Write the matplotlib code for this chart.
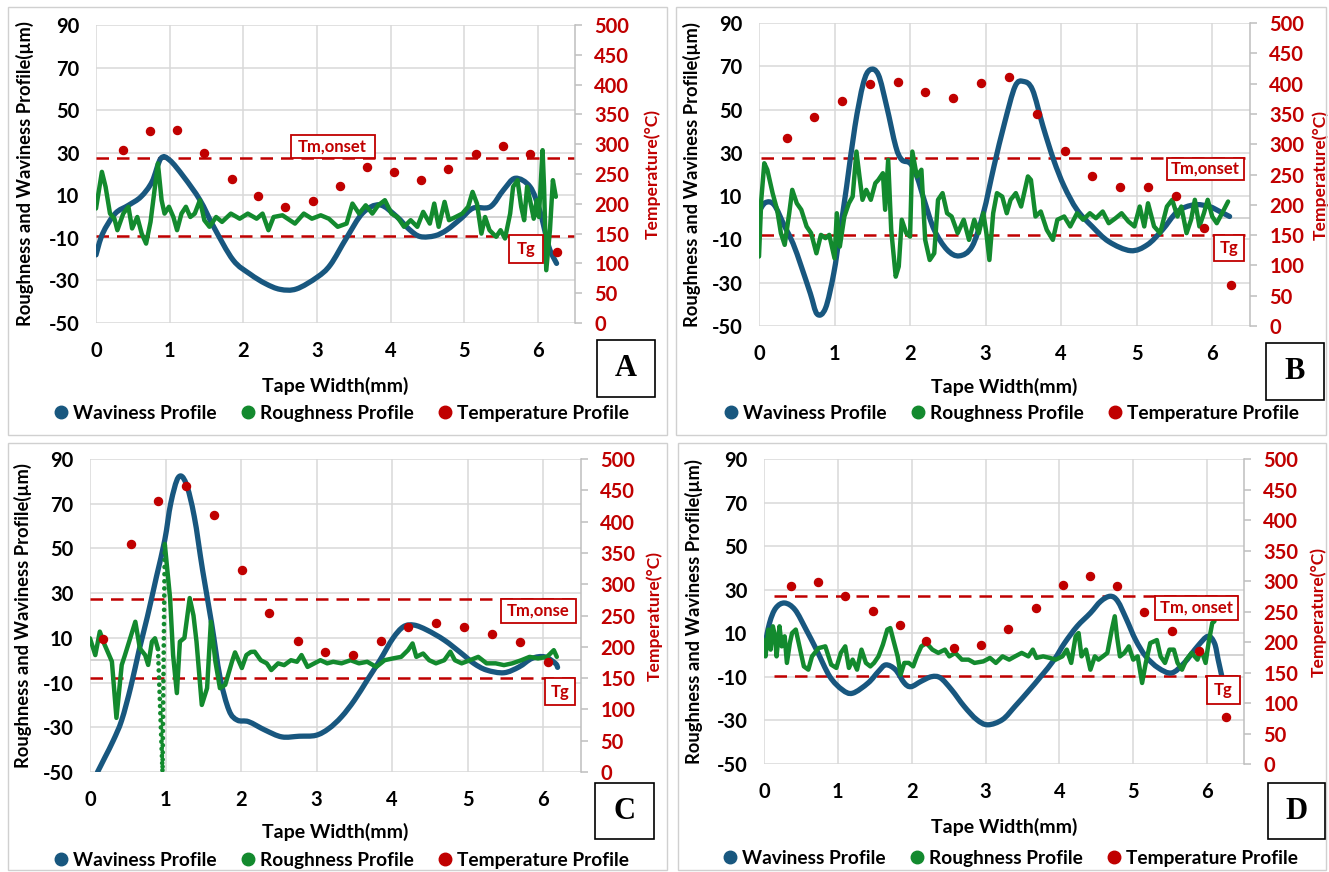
import numpy as np
import matplotlib
matplotlib.use('Agg')
import matplotlib.pyplot as plt
from matplotlib.patches import Rectangle, PathPatch
from matplotlib.path import Path
from matplotlib.lines import Line2D

plt.rcParams['font.family'] = ['Lato', 'DejaVu Sans']
plt.rcParams['font.weight'] = 'bold'

W, H = 1329, 872
BLUE = '#18577F'
GREEN = '#138A2E'
RED = '#C00000'
GRID = '#D9D9D9'

# ---------------- data ----------------
temp_x = [0.37, 0.73, 1.10, 1.47, 1.84, 2.20, 2.57, 2.94, 3.31, 3.68, 4.05, 4.41, 4.78, 5.15, 5.52, 5.89, 6.25]
temp_c_x = [0.17, 0.54, 0.90, 1.27, 1.64, 2.01, 2.37, 2.75, 3.11, 3.48, 3.85, 4.21, 4.58, 4.95, 5.32, 5.69, 6.06]
temp_a = [290, 322, 324, 286, 241, 213, 195, 204, 230, 261, 253, 240, 259, 283, 297, 283, 119]
temp_b = [311, 345, 371, 399, 402, 386, 377, 401, 411, 350, 288, 247, 229, 229, 214, 162, 68]
temp_c = [212, 365, 433, 457, 410, 322, 254, 209, 192, 187, 210, 232, 238, 232, 220, 207, 175]
temp_d = [291, 298, 276, 251, 228, 201, 190, 195, 221, 256, 293, 309, 291, 249, 218, 185, 77]

wav_a_x = [0, 0.09, 0.26, 0.44, 0.61, 0.76, 0.88, 1.0, 1.19, 1.41, 1.6, 1.86, 2.09, 2.3, 2.5, 2.72, 3.0, 3.18, 3.4,
           3.62, 3.85, 4.08, 4.25, 4.4, 4.6, 4.76, 4.95, 5.12, 5.35, 5.53, 5.69, 5.89, 6.02, 6.1, 6.16, 6.25]
wav_a_y = [-18, -8, 1.4, 5.3, 9.3, 16.3, 27.3, 26.5, 18.7, 7.8, -5, -20.4, -27, -31.5, -34.2, -34, -28.5, -22.7, -10,
           1.7, 5.5, 0, -6, -9.4, -9, -6.3, -1, 4, 4.6, 12.5, 18, 14, 3, -8, -15.7, -22]

rough_a_x = [0, 0.08, 0.13, 0.19, 0.25, 0.29, 0.37, 0.44, 0.49, 0.56, 0.62, 0.68, 0.74, 0.80, 0.84, 0.89, 0.93, 0.99,
             1.05, 1.10, 1.16, 1.22, 1.28, 1.34, 1.41, 1.47, 1.54, 1.63, 1.71, 1.83, 1.95, 2.06, 2.18, 2.26, 2.34,
             2.41, 2.53, 2.70, 2.82, 2.93, 3.05, 3.16, 3.28, 3.40, 3.48, 3.57, 3.66, 3.75, 3.83, 3.92, 4.01, 4.09,
             4.18, 4.27, 4.36, 4.44, 4.53, 4.59, 4.65, 4.73, 4.79, 4.88, 4.97, 5.05, 5.11, 5.17, 5.23, 5.28, 5.34,
             5.43, 5.49, 5.55, 5.62, 5.66, 5.72, 5.77, 5.81, 5.85, 5.89, 5.94, 5.98, 6.01, 6.06, 6.08, 6.11, 6.16,
             6.20, 6.24]
rough_a_y = [3.8, 21, 14, 1.4, -1, -6.4, 1.4, 4.6, -5.6, -0.2, -8, -12.7, -2.5, 14, 25, 7.7, 1.4, 4.6,
             -0.2, -6.4, 1.4, 4.6, -0.2, 1.4, 7.7, -1.7, -4.8, -0.2, -2.5, 1.4, -1, 1.4, -1, 1.4, -6.4,
             -0.2, 0.6, -3.3, 1.4, -1, 0.6, -1, -4.8, -3.3, 6.1, 1.4, 5.3, 1.4, 5.3, 7.7, 1.4, -0.2,
             -4.8, -1.7, -4.8, 2.2, -3.3, 6.1, -4.8, 6.9, -1.7, -0.2, 1.4, 4.6, 11.6, 6.1, -8, -0.2, -6.4,
             -9.5, -6.4, -10.3, 1.4, 14, 17.1, 4.6, -1.7, 14, 7.7, -1, 7.7, -0.2, 31.2, 14, -25.2, -6.4,
             17.1, 9.3]

wav_b_x = [0, 0.085, 0.2, 0.34, 0.45, 0.56, 0.68, 0.77, 0.88, 0.99, 1.07, 1.16, 1.27, 1.38, 1.47, 1.58, 1.69, 1.81,
           1.89, 2.0, 2.09, 2.2, 2.32, 2.49, 2.65, 2.82, 2.97, 3.11, 3.25, 3.39, 3.5, 3.62, 3.76, 3.9, 4.04, 4.21,
           4.41, 4.63, 4.92, 5.14, 5.34, 5.54, 5.76, 5.96, 6.1, 6.23]
wav_b_y = [2.9, 7, 6, -4, -11.8, -22.5, -35, -44.5, -41.8, -25.6, -7.1, 14.5, 42.2, 62, 68.4, 66.1, 51.5, 33,
           26.8, 25.2, 19.1, 6.7, -5.6, -14.8, -17.6, -13.3, 2.1, 23.7, 43.7, 60.7, 63, 59.2, 42.2, 26.8, 14.5, 3.7,
           -4, -11, -15.2, -12.5, -5.6, 2.9, 6, 5.2, 2.9, 0.6]

rough_b_x = [0, 0.03, 0.07, 0.11, 0.18, 0.24, 0.29, 0.34, 0.40, 0.44, 0.50, 0.56, 0.63, 0.69, 0.76, 0.82, 0.88, 0.93,
             1.0, 1.03, 1.07, 1.13, 1.19, 1.24, 1.29, 1.33, 1.37, 1.42, 1.48, 1.54, 1.58, 1.64, 1.67, 1.71, 1.75,
             1.81, 1.85, 1.89, 1.95, 2.0, 2.03, 2.09, 2.15, 2.2, 2.26, 2.32, 2.37, 2.43, 2.49, 2.55, 2.63, 2.71,
             2.78, 2.85, 2.91, 2.97, 3.01, 3.05, 3.1, 3.15, 3.22, 3.28, 3.33, 3.40, 3.47, 3.56, 3.60, 3.66, 3.73,
             3.81, 3.89, 3.95, 4.04, 4.12, 4.21, 4.29, 4.38, 4.46, 4.55, 4.63, 4.72, 4.8, 4.89, 4.97, 5.04, 5.1,
             5.15, 5.23, 5.31, 5.4, 5.47, 5.54, 5.59, 5.66, 5.72, 5.77, 5.83, 5.89, 5.94, 6.0, 6.06, 6.13, 6.21]
rough_b_y = [-17.9, 8.3, 25.2, 22.2, 11.4, 3.7, -7.1, -12.5, 2.1, 12.9, 6.7, 3.7, -4, -7.1, -16.4, -7.9, -9.4, -7.9,
             -18.7, 2.1, -13.3, 0.6, 6.7, 9.8, 30.6, 19.1, 8.3, 12.9, 8.3, 16, 17.5, 20.6, 3.7, 26.8, -5.6,
             -27.2, -22.5, -0.9, -7.1, -8.7, 30.6, 19.1, 22.2, -10.2, -19.5, -16.4, 8.3, 11.4, 2.1, 0.6, -7.1, -0.9,
             -10.2, -0.9, -7.1, 2.1, -7.1, -19.5, 2.1, 11.4, 9.8, 2.1, 8.3, 11.4, 5.2, 19.1, 17.5, 0.6, 2.9,
             -5.6, -10.2, -0.9, 0.6, -4, 2.1, -0.9, 2.1, -0.2, 2.9, -2.5, -0.2, 2.1, -1.7, -4, 5.2, -4,
             6.7, -4, -7.1, 5.2, 8.3, 0.6, 5.2, -7.1, -0.9, 8.3, -4, 2.1, 8.3, 0.6, -2.5, 2.1, 7.5]

wav_c_x = [0.1, 0.2, 0.31, 0.42, 0.54, 0.65, 0.76, 0.88, 0.99, 1.07, 1.17, 1.27, 1.38, 1.49, 1.61, 1.72, 1.84, 1.95,
           2.1, 2.32, 2.54, 2.77, 2.99, 3.16, 3.33, 3.5, 3.67, 3.84, 4.01, 4.15, 4.29, 4.46, 4.69, 4.92, 5.08, 5.25,
           5.48, 5.68, 5.85, 6.02, 6.16, 6.19]
wav_c_y = [-50, -43.3, -35.8, -26.8, -11.9, 4.5, 19.5, 37.4, 53.8, 70.3, 81.8, 79.2, 64.3, 40.4, 16.5, -7.4, -22.4, -26.8,
           -27.5, -31.3, -34.3, -34, -33.6, -30.6, -25.3, -17.9, -8.9, 0.1, 9.8, 15, 15.7, 13.5, 9, 3, -1.4, -4.4,
           -5.6, -3, 0.8, 1.5, -1.4, -3.2]

rough_c1_x = [0, 0.07, 0.13, 0.19, 0.29, 0.35, 0.42, 0.46, 0.6, 0.66, 0.73, 0.77, 0.82, 0.86, 0.9]
rough_c1_y = [9.8, 2.3, 12.8, 7.2, -0.6, -25.8, -2.1, 2, 17.2, 5.3, 2.3, -2.1, 8.3, 9.8, 5]
rough_c_drop_x = [0.9, 0.96, 0.99]
rough_c_drop_y = [5, -50, 52]
rough_c2_x = [0.99, 1.06, 1.10, 1.15, 1.19, 1.25, 1.32, 1.37, 1.41, 1.48, 1.55, 1.60, 1.66, 1.72, 1.79, 1.88, 1.92,
              2.01, 2.07, 2.13, 2.18, 2.26, 2.34, 2.4, 2.49, 2.57, 2.66, 2.74, 2.8, 2.88, 2.97, 3.05, 3.14, 3.22,
              3.33, 3.45, 3.56, 3.67, 3.79, 3.9, 4.01, 4.12, 4.21, 4.27, 4.32, 4.41, 4.49, 4.58, 4.69, 4.77, 4.83,
              4.92, 5.03, 5.14, 5.25, 5.37, 5.48, 5.59, 5.71, 5.82, 5.93, 6.05, 6.14, 6.18]
rough_c2_y = [52, 27.8, 2.3, -14.7, 8.3, 10, 27.8, 20, 8.3, -20, -12.5, 17.2, -0.6, -12.5, -11, -0.6, 3.5,
              -3.5, 2.3, 3.7, 3.8, 0, -1.4, -4.4, -1.4, -2.2, 0, -0.7, 2.3, -3, -1.4, 0, -1.4, -0.7,
              -1.4, 0, -1.4, -0.7, -3, 0, 0.8, 1.5, 4.5, 7.5, 1.5, 3, 0, -1.4, 0, 3.8, 0,
              -1.4, 0, 1.5, -1.4, -1.4, -2.2, -1.4, 0, 1.5, 0.8, 1.5, 4.5, 1.5]

wav_d_x = [0, 0.075, 0.16, 0.28, 0.42, 0.57, 0.71, 0.89, 1.06, 1.2, 1.41, 1.55, 1.65, 1.78, 1.9, 1.99, 2.13, 2.27,
           2.39, 2.54, 2.71, 2.88, 3.03, 3.23, 3.4, 3.58, 3.75, 3.93, 4.07, 4.24, 4.42, 4.56, 4.69, 4.79, 4.91,
           5.03, 5.17, 5.34, 5.52, 5.69, 5.87, 6.01, 6.1, 6.15, 6.2]
wav_d_y = [2.5, 14.7, 21.6, 23.9, 20.8, 11.7, 2.5, -9.8, -15.9, -17.5, -12.8, -7.5, -4.5, -6.7, -12.8, -14.5, -12, -9.9,
           -10.5, -15.9, -23.5, -29.6, -32, -29.6, -23.5, -16.6, -9.8, -2.1, 5.5, 13.2, 19.3, 24.7, 27, 24.7, 16.3,
           7.1, -0.6, -5.9, -8.2, -3.6, 4, 8.6, 5.5, -2.1, -9.8]

rough_d_x = [0, 0.02, 0.06, 0.09, 0.12, 0.15, 0.17, 0.21, 0.24, 0.28, 0.31, 0.35, 0.38, 0.43, 0.48, 0.54, 0.6, 0.65,
             0.74, 0.83, 0.91, 0.98, 1.04, 1.1, 1.15, 1.2, 1.26, 1.32, 1.38, 1.44, 1.49, 1.55, 1.61, 1.67, 1.71,
             1.75, 1.81, 1.85, 1.9, 1.96, 2.02, 2.07, 2.13, 2.2, 2.28, 2.36, 2.45, 2.51, 2.59, 2.68, 2.77, 2.85,
             2.97, 3.06, 3.14, 3.23, 3.32, 3.4, 3.49, 3.58, 3.64, 3.69, 3.78, 3.87, 3.95, 4.04, 4.1, 4.16, 4.22,
             4.26, 4.3, 4.36, 4.42, 4.48, 4.53, 4.59, 4.65, 4.71, 4.75, 4.78, 4.82, 4.88, 4.94, 5.0, 5.06, 5.12,
             5.17, 5.23, 5.32, 5.37, 5.43, 5.49, 5.55, 5.6, 5.66, 5.72, 5.79, 5.87, 5.92, 5.98, 6.02, 6.07, 6.1]
rough_d_y = [6.9, -0.6, 11.7, 2.5, 13.2, 8.6, -0.6, 13.2, 4, 8.6, -3.6, 5.5, 10.1, 11.7, 4, -5.2, -6.7, -0.6,
             3.2, 4, -4.4, -5.9, 1, 4, -5.9, -2.1, -6.7, 2.5, -3.6, -5.2, -3.6, -0.6, 4.8, 11.7, 12.4,
             7.1, -0.6, -9, -3.6, -3.6, -5.2, -0.6, 4, 5.5, 2.5, 1, 2.5, -0.6, 1, -2.1, -2.1, -3.6,
             -2.9, -1.3, -3.6, -0.6, -2.1, -0.6, 1, -0.6, 2.5, -1.3, -0.6, -1.3, -2.1, -0.6, 2.5, -3.6, 8.6,
             10.1, -0.6, 2.5, -6.7, -0.6, -2.1, -0.6, 1, 11.7, 17.8, 8.6, -0.6, 1, 4, -2.1, -0.6, -12.8,
             -3.6, 5.5, 6.9, -0.6, -3.6, 2.5, 2.5, -3.6, -6.7, -2.1, 1, -2.1, 2.5, -3.6, 5.5, 14.7, 15.5]

y_ticks = [-50, -30, -10, 10, 30, 50, 70, 90]
t_ticks = [0, 50, 100, 150, 200, 250, 300, 350, 400, 450, 500]
x_ticks = [0, 1, 2, 3, 4, 5, 6]

TICK_FS = 14.5
LAB_FS = 13.2
TLAB_FS = 12.6
LEG_FS = 13.8

# ---------------- drawing ----------------
fig = plt.figure(figsize=(W / 100, H / 100), dpi=100)
fig.patch.set_facecolor('white')


def frect(x0, y0, x1, y1):
    return [x0 / W, 1 - y1 / H, (x1 - x0) / W, (y1 - y0) / H]


def smooth_path(xs, ys):
    """Excel-style smoothed line: cubic Bezier segments through the read points."""
    p = np.column_stack([xs, ys]).astype(float)
    verts = [p[0]]
    codes = [Path.MOVETO]
    n = len(p)
    for i in range(n - 1):
        p0 = p[i - 1] if i > 0 else p[i]
        p1 = p[i]
        p2 = p[i + 1]
        p3 = p[i + 2] if i + 2 < n else p[i + 1]
        c1 = p1 + (p2 - p0) / 6.0
        c2 = p2 - (p3 - p1) / 6.0
        verts += [c1, c2, p2]
        codes += [Path.CURVE4] * 3
    return Path(verts, codes)


def panel(box, outer, letter_box, letter, leg_c, ylab_x, tlab_x, xlab_y,
          wav, rough_parts, temps, tm, tg, tm_box, tg_box, tm_text, dash_x0):
    x0, y0, x1, y1 = box
    fig.add_artist(Rectangle((outer[0] / W, 1 - outer[3] / H), (outer[2] - outer[0]) / W,
                             (outer[3] - outer[1]) / H, transform=fig.transFigure,
                             fill=False, ec='#D0D0D0', lw=1.0))
    ax = fig.add_axes(frect(*box))
    ax.set_xlim(0, 6.5)
    ax.set_ylim(-50, 90)
    ax.set_xticks(x_ticks)
    ax.set_yticks(y_ticks)
    ax.set_xticklabels([str(v) for v in x_ticks])
    ax.set_yticklabels([str(v) for v in y_ticks])
    for s in ax.spines.values():
        s.set_visible(False)
    ax.grid(True, color=GRID, lw=1.1)
    ax.set_axisbelow(True)
    ax.axhline(0, color='#C8C8C8', lw=1.1, zorder=0.5)
    ax.tick_params(axis='both', length=0, labelsize=TICK_FS, colors='black')
    ax.tick_params(axis='x', pad=13)
    ax.tick_params(axis='y', pad=12)
    for lab in ax.get_xticklabels() + ax.get_yticklabels():
        lab.set_fontweight('bold')

    ax.plot([dash_x0, 6.5], [tm, tm], color=RED, lw=1.8, dashes=(5, 3.2), zorder=2)
    ax.plot([dash_x0, 6.5], [tg, tg], color=RED, lw=1.8, dashes=(5, 3.2), zorder=2)

    ax.add_patch(PathPatch(smooth_path(wav[0], wav[1]), fill=False, ec=BLUE, lw=3.8,
                           capstyle='round', joinstyle='round', zorder=3))
    for (rx, ry, style) in rough_parts:
        if style == 'solid':
            ax.plot(rx, ry, color=GREEN, lw=3.2, solid_capstyle='round', solid_joinstyle='round', zorder=4)
        else:
            ax.plot(rx, ry, color=GREEN, lw=3.4, linestyle=(0, (0.01, 1.5)), dash_capstyle='round', zorder=4)

    for (bx0, by0, bx1, by1), txt in ((tm_box, tm_text), (tg_box, 'Tg')):
        ax.add_patch(Rectangle((bx0, by0), bx1 - bx0, by1 - by0, fc='white', ec=RED, lw=1.3, zorder=6,
                               clip_on=False))
        ax.text((bx0 + bx1) / 2, (by0 + by1) / 2, txt, color=RED, fontsize=12, fontweight='bold',
                ha='center', va='center', zorder=7)

    ax.set_xlabel('Tape Width(mm)', fontsize=14, fontweight='bold')
    ax.xaxis.set_label_coords(0.5, 1 - (xlab_y - y0) / (y1 - y0))
    ax.set_ylabel('Roughness and Waviness Profile(µm)', fontsize=LAB_FS, fontweight='bold')
    ax.yaxis.set_label_coords((ylab_x - x0) / (x1 - x0), 0.5)

    ax2 = ax.twinx()
    ax2.set_ylim(0, 500)
    ax2.set_yticks(t_ticks)
    ax2.set_yticklabels([str(v) for v in t_ticks])
    for k, s in ax2.spines.items():
        s.set_visible(k == 'right')
    ax2.spines['right'].set_color('#BFBFBF')
    ax2.spines['right'].set_linewidth(1.1)
    ax2.tick_params(axis='y', length=5, width=1.1, color='#BFBFBF', labelcolor=RED, labelsize=TICK_FS, pad=9)
    for lab in ax2.get_yticklabels():
        lab.set_fontweight('bold')
    ax2.plot(temps[0], temps[1], 'o', color=RED, ms=5.8, mec=RED, zorder=5, clip_on=False)
    ax2.set_ylabel('Temperature(°C)', color=RED, fontsize=TLAB_FS, fontweight='bold')
    ax2.yaxis.set_label_coords((tlab_x - x0) / (x1 - x0), 0.5)

    lx0, ly0, lx1, ly1 = letter_box
    fig.add_artist(Rectangle((lx0 / W, 1 - ly1 / H), (lx1 - lx0) / W, (ly1 - ly0) / H,
                             transform=fig.transFigure, fill=False, ec='black', lw=1.2))
    fig.text((lx0 + lx1) / 2 / W, 1 - (ly0 + ly1) / 2 / H, letter, fontsize=22, fontweight='bold',
             family='Liberation Serif', ha='center', va='center')

    handles = [Line2D([], [], marker='o', ls='none', color=c, ms=9) for c in (BLUE, GREEN, RED)]
    fig.legend(handles, ['Waviness Profile', 'Roughness Profile', 'Temperature Profile'],
               loc='center', bbox_to_anchor=(leg_c[0] / W, 1 - leg_c[1] / H), ncol=3, frameon=False,
               prop={'size': LEG_FS, 'weight': 'bold'}, handlelength=0.6, handletextpad=0.35,
               columnspacing=1.3, borderaxespad=0)


panel((96, 25, 575, 323), (8, 7, 667, 435), (597, 340, 655, 397), 'A', (342, 413), 34, 644, 377,
      (wav_a_x, wav_a_y), [(rough_a_x, rough_a_y, 'solid')], (temp_x, temp_a),
      27.6, -9.1, (2.64, 27.3, 3.78, 38.3), (5.6, -22, 6.06, -8.8), 'Tm,onset', 0.0)

panel((759, 23, 1250, 326), (676, 7, 1326, 435), (1266, 343, 1324, 400), 'B', (1012, 413), 701, 1312, 378,
      (wav_b_x, wav_b_y), [(rough_b_x, rough_b_y, 'solid')], (temp_x, temp_b),
      27.8, -8.0, (5.4, 17.6, 6.42, 27.6), (6.02, -19.9, 6.42, -7.9), 'Tm,onset', 0.03)

panel((90, 459, 581, 772), (8, 443, 667, 870), (595, 783, 654, 839), 'C', (342, 860), 32, 646, 823,
      (wav_c_x, wav_c_y),
      [(rough_c1_x, rough_c1_y, 'solid'), (rough_c_drop_x, rough_c_drop_y, 'dotted'),
       (rough_c2_x, rough_c2_y, 'solid')],
      (temp_c_x, temp_c),
      27.4, -7.9, (5.44, 16.8, 6.43, 27.4), (6.02, -20.2, 6.42, -7.8), 'Tm,onse', 0.0)

panel((764, 459, 1244, 764), (678, 443, 1326, 870), (1268, 783, 1325, 839), 'D', (1011, 858), 703, 1310, 818,
      (wav_d_x, wav_d_y), [(rough_d_x, rough_d_y, 'solid')], (temp_x, temp_d),
      27.0, -9.8, (5.29, 16.3, 6.42, 27.0), (6.0, -22.3, 6.44, -9.8), 'Tm, onset', 0.13)

fig.savefig('out.png', dpi=100, facecolor='white')
